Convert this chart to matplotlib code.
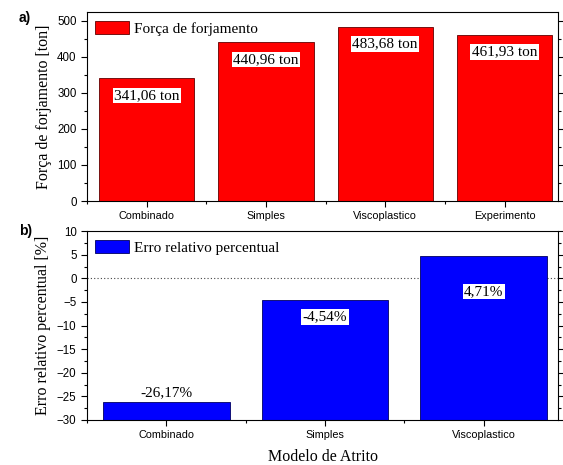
import numpy as np
import matplotlib.pyplot as plt
from matplotlib.ticker import MultipleLocator

# data
forca_cats = ['Combinado', 'Simples', 'Viscoplastico', 'Experimento']
forca_vals = [341.06, 440.96, 483.68, 461.93]
forca_labels = ['341,06 ton', '440,96 ton', '483,68 ton', '461,93 ton']

erro_cats = ['Combinado', 'Simples', 'Viscoplastico']
erro_vals = [-26.17, -4.54, 4.71]
erro_labels = ['-26,17%', '-4,54%', '4,71%']

serif = 'Liberation Serif'
sans = 'Liberation Sans'

fig = plt.figure(figsize=(5.63, 4.65), dpi=100)
ax1 = fig.add_axes([0.1545, 0.5677, 0.837, 0.406])
ax2 = fig.add_axes([0.1545, 0.0968, 0.837, 0.406])


def style(ax):
    ax.tick_params(which='both', direction='out', right=True, top=False, width=0.8)
    ax.tick_params(axis='x', labelsize=7.8)
    ax.tick_params(axis='y', labelsize=8.3)
    ax.tick_params(which='major', length=4)
    ax.tick_params(which='minor', length=2)
    for lab in ax.get_xticklabels() + ax.get_yticklabels():
        lab.set_family(sans)
    for s in ax.spines.values():
        s.set_linewidth(0.8)


leg_kw = dict(loc='upper left', frameon=False, prop={'family': serif, 'size': 11},
              handlelength=2.2, handleheight=1.0, handletextpad=0.3,
              borderaxespad=0.35, borderpad=0.2)

# a) forging force
x1 = np.arange(len(forca_cats))
ax1.bar(x1, forca_vals, width=0.8, color='#ff0000', edgecolor='#600000',
        linewidth=0.6, label='Força de forjamento')
for xi, v, t in zip(x1, forca_vals, forca_labels):
    ax1.text(xi, v - 48, t, ha='center', va='center', family=serif, fontsize=11,
             bbox=dict(facecolor='white', edgecolor='none', pad=1.0))
ax1.set_xlim(-0.5, 3.45)
ax1.set_ylim(0, 524)
ax1.set_xticks(x1)
ax1.set_xticklabels(forca_cats)
ax1.xaxis.set_minor_locator(MultipleLocator(0.5))
ax1.yaxis.set_major_locator(MultipleLocator(100))
ax1.yaxis.set_minor_locator(MultipleLocator(50))
ax1.set_ylabel('Força de forjamento [ton]', family=serif, fontsize=11.5)
style(ax1)
ax1.legend(**leg_kw)

# b) relative error
x2 = np.arange(len(erro_cats))
ax2.bar(x2, np.array(erro_vals) + 30, bottom=-30, width=0.8, color='#0000ff',
        edgecolor='#000060', linewidth=0.6, label='Erro relativo percentual')
ax2.axhline(0, color='#444444', linestyle=(0, (1, 2)), linewidth=0.8, zorder=0)
offsets = [2.0, -3.6, -7.5]
for xi, v, t, off in zip(x2, erro_vals, erro_labels, offsets):
    ax2.text(xi, v + off, t, ha='center', va='center', family=serif, fontsize=11,
             bbox=dict(facecolor='white', edgecolor='none', pad=1.0))
ax2.set_xlim(-0.5, 2.47)
ax2.set_ylim(-30, 10)
ax2.set_xticks(x2)
ax2.set_xticklabels(erro_cats)
ax2.xaxis.set_minor_locator(MultipleLocator(0.5))
ax2.yaxis.set_major_locator(MultipleLocator(5))
ax2.yaxis.set_minor_locator(MultipleLocator(2.5))
ax2.set_ylabel('Erro relativo percentual [%]', family=serif, fontsize=11.5)
ax2.set_xlabel('Modelo de Atrito', family=serif, fontsize=11.5, labelpad=6)
style(ax2)
ax2.legend(**leg_kw)

fig.text(0.033, 0.953, 'a)', family=sans, fontweight='bold', fontsize=10)
fig.text(0.033, 0.495, 'b)', family=sans, fontweight='bold', fontsize=10)

fig.savefig('out.png', dpi=100)
